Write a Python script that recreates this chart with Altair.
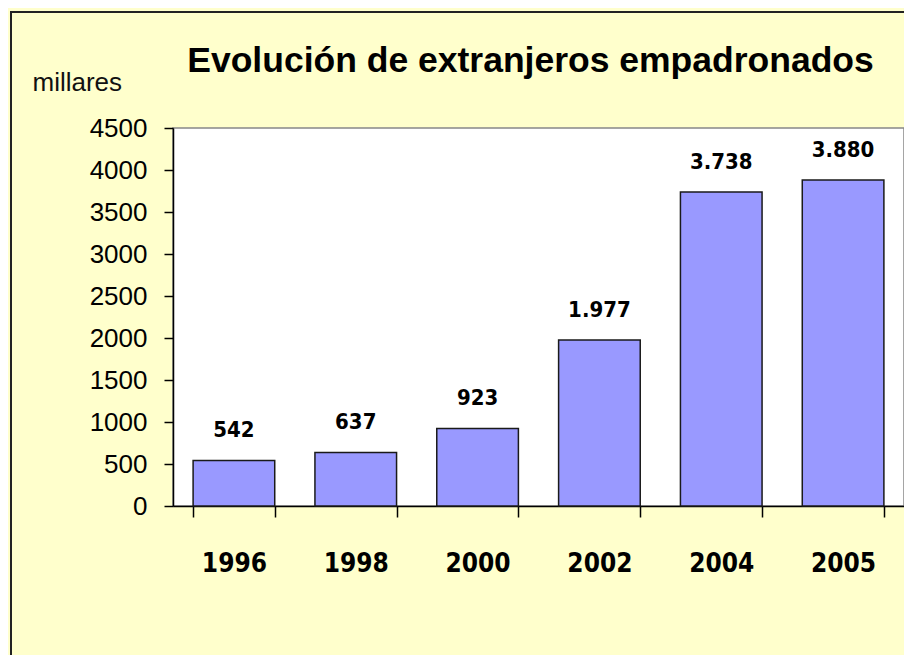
import altair as alt
import pandas as pd

years = ["1996", "1998", "2000", "2002", "2004", "2005"]
values = [542, 637, 923, 1977, 3738, 3880]
labels = [f"{v:,}".replace(",", ".") for v in values]
y_ticks = list(range(0, 4501, 500))
title_text = "Evolución de extranjeros empadronados"

df = pd.DataFrame({"year": years, "value": values, "label": labels})

W, H = 731, 378
PAD = {"left": 165, "top": 120, "right": 0, "bottom": 149}

NARROW = "'DejaVu Sans Condensed', 'Liberation Sans Narrow', 'Arial Narrow', 'Liberation Sans', sans-serif"
SANS = "Liberation Sans"

x_enc = alt.X(
    "year:N",
    sort=None,
    scale=alt.Scale(paddingInner=0.33, paddingOuter=0.165),
    axis=alt.Axis(
        title=None,
        labelAngle=0,
        labelFont=NARROW,
        labelFontSize=26,
        labelFontWeight="bold",
        labelColor="black",
        labelPadding=33,
        tickSize=11,
        tickBand="extent",
        domainColor="black",
        tickColor="black",
        domainWidth=1.5,
        tickWidth=1.5,
    ),
)
y_enc = alt.Y(
    "value:Q",
    scale=alt.Scale(domain=[0, 4500], nice=False),
    axis=alt.Axis(
        values=y_ticks,
        format="d",
        grid=False,
        title="millares",
        titleAngle=0,
        titleX=-141,
        titleY=-38,
        titleAlign="left",
        titleBaseline="alphabetic",
        titleFont=SANS,
        titleFontSize=26,
        titleFontWeight="normal",
        titleColor="#111",
        labelFont=SANS,
        labelFontSize=26,
        labelColor="black",
        labelPadding=17,
        tickSize=9,
        domainColor="black",
        tickColor="black",
        domainWidth=1.5,
        tickWidth=1.5,
    ),
)

bars = alt.Chart(df).mark_bar(
    color="#9999FF", stroke="#1a1a1a", strokeWidth=1.5
).encode(x=x_enc, y=y_enc)

text = alt.Chart(df).mark_text(
    dy=-30, fontSize=22, fontWeight="bold", font=NARROW, baseline="middle", color="black"
).encode(x=alt.X("year:N", sort=None), y="value:Q", text="label:N")

one = pd.DataFrame({"t": [title_text]})
title_mark = alt.Chart(one).mark_text(
    font=SANS, fontSize=35.5, fontWeight="bold", color="black",
    align="center", baseline="alphabetic",
).encode(x=alt.value(W / 2 - 8), y=alt.value(-56), text="t:N")

left_border = alt.Chart(one).mark_rule(color="#222", strokeWidth=2).encode(
    x=alt.value(-162), y=alt.value(-116), y2=alt.value(H + 149)
)
top_border = alt.Chart(one).mark_rule(color="#222", strokeWidth=2).encode(
    x=alt.value(-163), x2=alt.value(W + 5), y=alt.value(-116)
)

chart = (
    alt.layer(bars, text, title_mark, left_border, top_border)
    .properties(
        width=W,
        height=H,
        padding=PAD,
        autosize=alt.AutoSizeParams(type="none"),
        background="#FFFFCC",
    )
    .configure_view(fill="white", stroke="#888888", strokeWidth=1.5)
)

chart.save("out.html", embed_options={"renderer": "svg", "actions": False})
